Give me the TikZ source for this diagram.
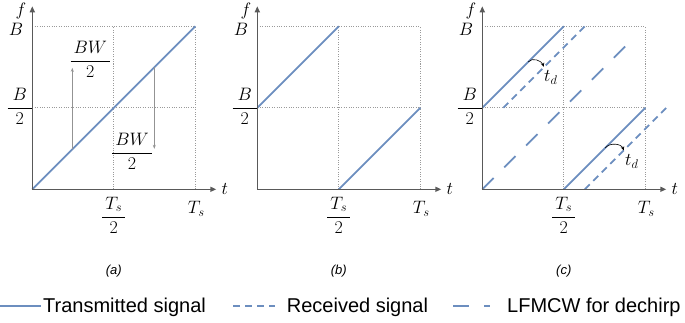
\RequirePackage{fix-cm}
\documentclass[tikz,border=0pt]{standalone}
\usepackage{amsmath}
\usepackage{fontspec}
\setsansfont{Liberation Sans}
\usepackage{tikz}
\usetikzlibrary{arrows.meta, positioning}
\definecolor{chirpblue}{HTML}{6C8EBF}
\definecolor{axisgray}{HTML}{595959}
\definecolor{gridgray}{HTML}{9A9A9A}

\begin{document}
\begin{tikzpicture}[
        x=1pt,
        y=1pt,
        font=\fontsize{18}{20}\selectfont,
        axisline/.style={
            draw=axisgray,
            line width=1.4pt,
            -{Triangle[length=6pt,width=5pt]}
        },
        gridline/.style={
            draw=gridgray,
            line width=0.7pt,
            dash pattern=on 1pt off 1.4pt
        },
        txline/.style={
            draw=chirpblue,
            line width=1.8pt
        },
        rxline/.style={
            draw=chirpblue,
            line width=1.8pt,
            dash pattern=on 7pt off 5pt
        },
        lfmline/.style={
            draw=chirpblue,
            line width=1.8pt,
            dash pattern=on 16pt off 15pt
        },
        bwarrow/.style={
            draw=gray!85,
            line width=0.7pt,
            -{Stealth[length=4pt,width=3pt]}
        },
        delayarrow/.style={
            draw=black,
            line width=0.6pt,
            -{Stealth[length=4pt,width=3.5pt]}
        },
        ticklabel/.style={
            inner sep=0pt
        },
        caption/.style={
            font=\sffamily\itshape\fontsize{13}{15}\selectfont
        },
        legendtext/.style={
            font=\sffamily\fontsize{20}{22}\selectfont,
            anchor=base west,
            inner sep=0pt
        }
    ]

        \useasboundingbox (0,0) rectangle (685,322);

        % Achsen, Raster und Beschriftungen der drei Teilbilder
        \foreach \p/\px in {a/32.3, b/257.3, c/482.3} {
            \begin{scope}[shift={(\px,132.7)}]
                \draw[gridline]
                    (0,163) -- (163,163)
                    (0,81.5) -- (163,81.5)
                    (81.5,0) -- (81.5,163)
                    (163,0) -- (163,163);

                \coordinate (\p-o) at (0,0);
                \coordinate (\p-xend) at (184,0);
                \coordinate (\p-yend) at (0,183);

                \node[ticklabel] (\p-f) at (-11.3,177.8) {$f$};
                \node[ticklabel] (\p-t) at (192.5,0) {$t$};
                \node[ticklabel, anchor=east] (\p-B) at (-9,159.5) {$B$};
                \node[ticklabel] (\p-Bhalf) at (-12.5,83)
                    {$\dfrac{\;B\;}{2}$};
                \node[ticklabel] (\p-Tshalf) at (81.5,-26)
                    {$\dfrac{\,T_s\,}{2}$};
                \node[ticklabel] (\p-Ts) at (164,-19.5) {$T_s$};

                \node[caption] (\p-cap) at (81.5,-81.7) {(\p)};
            \end{scope}
        }

        % Teilbild (a): ein durchgehender Chirp
        \begin{scope}[shift={(32.3,132.7)}]
            \draw[txline] (0,0) -- (163,163);

            \coordinate (a-up-s) at (40,40);
            \coordinate (a-up-e) at (40,121.5);
            \coordinate (a-dn-s) at (122,122);
            \coordinate (a-dn-e) at (122,40.5);
            \draw[bwarrow] (a-up-s) -- (a-up-e);
            \draw[bwarrow] (a-dn-s) -- (a-dn-e);

            \node[ticklabel] (a-bwup) at (58,130)
                {$\dfrac{\,BW\,}{2}$};
            \node[ticklabel] (a-bwdn) at (99.7,38)
                {$\dfrac{\,BW\,}{2}$};
        \end{scope}

        % Teilbild (b): umgebrochener Chirp
        \begin{scope}[shift={(257.3,132.7)}]
            \draw[txline] (0,81.5) -- (81.5,163);
            \draw[txline] (81.5,0) -- (163,81.5);
        \end{scope}

        % Teilbild (c): Sende-, Empfangs- und Referenzsignal
        \begin{scope}[shift={(482.3,132.7)}]
            \draw[lfmline] (0,0) -- (151,151);
            \draw[txline] (0,81.5) -- (81.5,163);
            \draw[txline] (81.5,0) -- (163,81.5);
            \draw[rxline] (21,81.5) -- (102.5,163);
            \draw[rxline] (102.5,0) -- (184,81.5);

            \coordinate (c-tx1) at (46,127.5);
            \coordinate (c-rx1) at (61.5,122.5);
            \draw[delayarrow] (c-tx1) to[out=50, in=110] (c-rx1);
            \node[ticklabel] (c-td1) at (68.5,112) {$t_d$};

            \coordinate (c-tx2) at (123,41.5);
            \coordinate (c-rx2) at (141.5,38.8);
            \draw[delayarrow] (c-tx2) to[out=50, in=110] (c-rx2);
            \node[ticklabel] (c-td2) at (149.5,28) {$t_d$};
        \end{scope}

        % Achsen zuletzt
        \foreach \p in {a, b, c} {
            \draw[axisline] (\p-o) -- (\p-xend);
            \draw[axisline] (\p-o) -- (\p-yend);
        }

        % Legende
        \coordinate (lg-tx-s) at (0,16);
        \coordinate (lg-tx-e) at (41,16);
        \draw[txline] (lg-tx-s) -- (lg-tx-e);
        \node[legendtext] (lg-tx) at (43,9.5) {Transmitted signal};

        \coordinate (lg-rx-s) at (233,16);
        \coordinate (lg-rx-e) at (275,16);
        \draw[rxline] (lg-rx-s) -- (lg-rx-e);
        \node[legendtext] (lg-rx) at (286.7,9.5) {Received signal};

        \coordinate (lg-lfm-s) at (453,16);
        \coordinate (lg-lfm-e) at (490,16);
        \draw[lfmline] (lg-lfm-s) -- (lg-lfm-e);
        \node[legendtext] (lg-lfm) at (507,9.5) {LFMCW for dechirp};

    \end{tikzpicture}
\end{document}
